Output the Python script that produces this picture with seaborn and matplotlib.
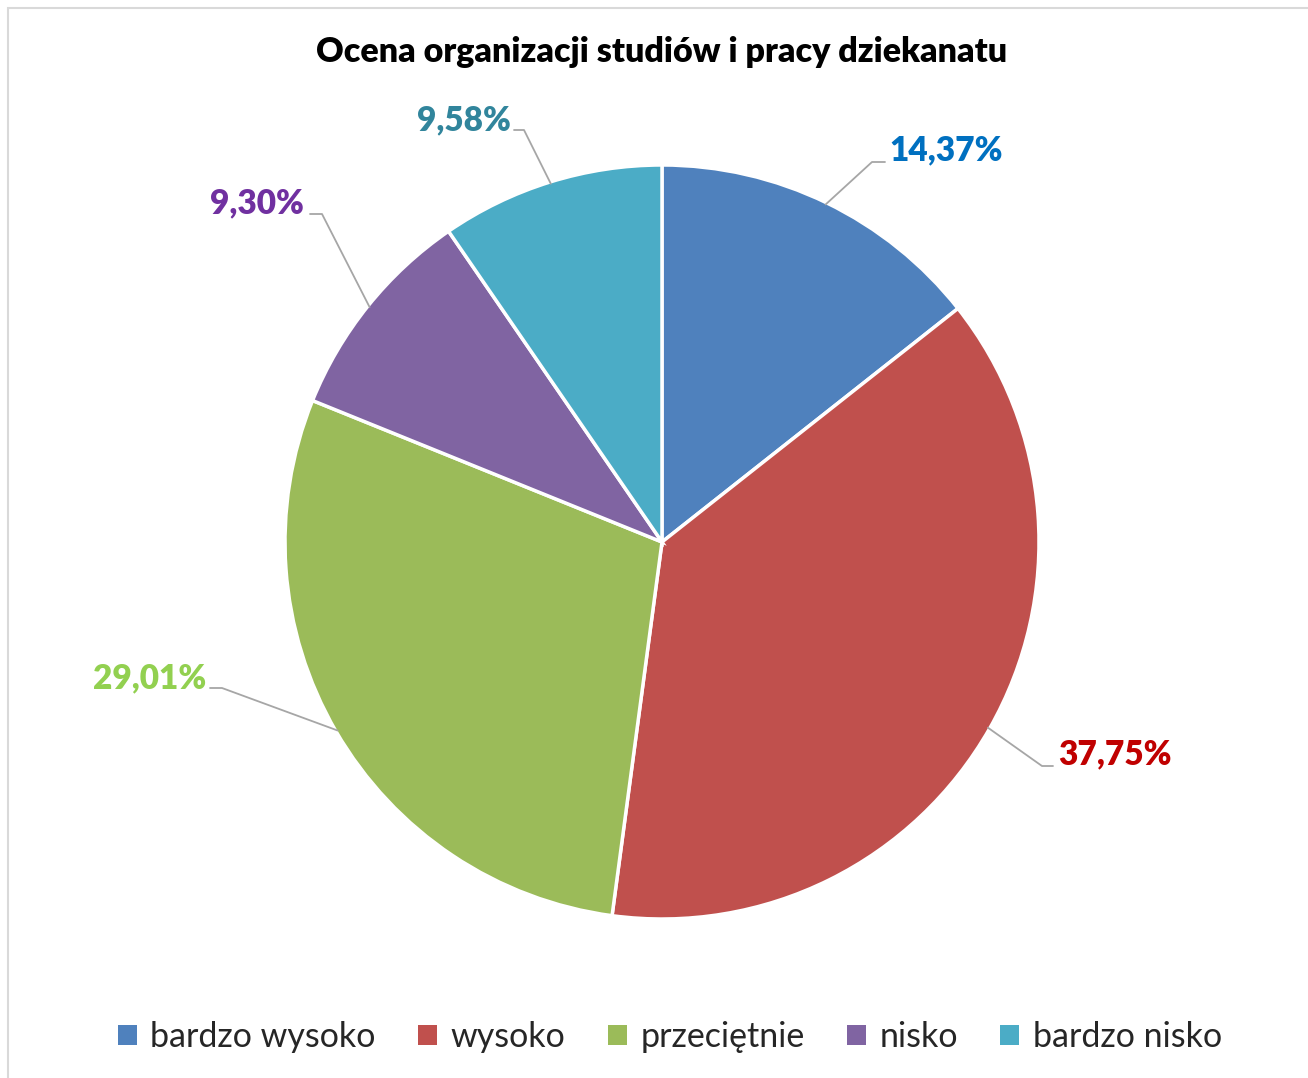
import numpy as np
import matplotlib
matplotlib.use('Agg')
import matplotlib.pyplot as plt
import seaborn as sns
from matplotlib.patches import Rectangle

sns.set_style('white')
plt.rcParams['font.family'] = ['Lato', 'DejaVu Sans']

# Data
categories = ['bardzo wysoko', 'wysoko', 'przeciętnie', 'nisko', 'bardzo nisko']
shares = [14.37, 37.75, 29.01, 9.30, 9.58]
labels = ['14,37%', '37,75%', '29,01%', '9,30%', '9,58%']

colors = ['#4F81BD', '#C0504D', '#9BBB59', '#8064A2', '#4BACC6']
label_colors = ['#0070C0', '#C00000', '#92D050', '#7030A0', '#31859C']

W, H = 1308, 1078
fig = plt.figure(figsize=(W / 100, H / 100), dpi=100)
fig.patch.set_facecolor('white')

# light chart-area border
fig.patches.append(Rectangle((8 / W, -0.1), 1.2, 1 - 8 / H + 0.1, transform=fig.transFigure,
                             fill=False, edgecolor='#D9D9D9', linewidth=1.5))

cx, cy, R = 662, 542, 377
ax = fig.add_axes([(cx - R) / W, 1 - (cy + R) / H, 2 * R / W, 2 * R / H])
wedges, _ = ax.pie(shares, colors=colors, startangle=90, counterclock=False,
                   wedgeprops=dict(edgecolor='white', linewidth=2.5))
ax.set_xlim(-1, 1)
ax.set_ylim(-1, 1)
ax.set_aspect('equal')
ax.axis('off')


def px(x, y):
    return (x - cx) / R, (cy - y) / R


# leader elbow / end / text positions in pixels (layout only)
leaders = [
    ((872, 162), (885, 162), (889, 150), 'left'),
    ((1042, 766), (1053, 766), (1058, 754), 'left'),
    ((222, 688), (210, 688), (206, 678), 'right'),
    ((322, 214), (310, 214), (304, 203), 'right'),
    ((524, 130), (514, 130), (511, 120), 'right'),
]

for w, lab, col, (elb, end, txt, ha) in zip(wedges, labels, label_colors, leaders):
    ang = np.deg2rad((w.theta1 + w.theta2) / 2)
    ax0, ay0 = np.cos(ang) * 0.995, np.sin(ang) * 0.995
    ex, ey = px(*elb)
    nx, ny = px(*end)
    ax.plot([ax0, ex, nx], [ay0, ey, ny], color='#A6A6A6', lw=1.3, clip_on=False)
    tx, ty = px(*txt)
    ax.text(tx, ty, lab, ha=ha, va='center', color=col, fontsize=24,
            fontweight='heavy', clip_on=False)

fig.text(662 / W, 1 - 52 / H, 'Ocena organizacji studiów i pracy dziekanatu',
         ha='center', va='center', fontsize=24.5, fontweight='heavy', color='black')

handles = [Rectangle((0, 0), 1, 1, facecolor=c, edgecolor='none') for c in colors]
fig.legend(handles, categories, loc='center', bbox_to_anchor=(670 / W, 1 - 1037 / H),
           ncol=5, frameon=False, fontsize=24.5, handlelength=0.55, handleheight=0.55,
           handletextpad=0.4, columnspacing=1.25)

fig.savefig('out.png', dpi=100, facecolor='white')
